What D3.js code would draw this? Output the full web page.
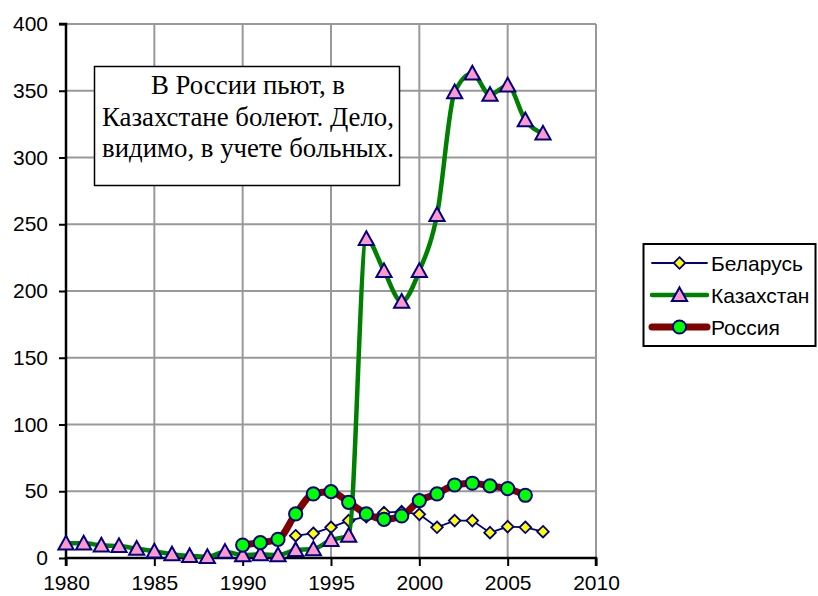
<!DOCTYPE html>
<html><head><meta charset="utf-8">
<script src="https://cdn.jsdelivr.net/npm/d3@7/dist/d3.min.js"></script>
<style>body{margin:0;background:#fff}svg{display:block}</style>
</head><body>
<svg id="c" width="818" height="596"></svg>
<script>
const belarusYears = [1993,1994,1995,1996,1997,1998,1999,2000,2001,2002,2003,2004,2005,2006,2007];
const belarus = [16.7,18.5,23,28,31,34,34.7,32.7,23,28,28,19,23.5,23,19.7];
const kazYears = [1980,1981,1982,1983,1984,1985,1986,1987,1988,1989,1990,1991,1992,1993,1994,1995,1996,1997,1998,1999,2000,2001,2002,2003,2004,2005,2006,2007];
const kazakhstan = [11,11,9.5,9,7,5,2.8,1.5,0.8,4.7,2.2,2.8,2.2,6,6.7,13.5,16.7,239,215,192,215,257,349,363,347,354,328,318];
const rusYears = [1990,1991,1992,1993,1994,1995,1996,1997,1998,1999,2000,2001,2002,2003,2004,2005,2006];
const russia = [9.7,11.5,14,33,48,49.7,41.7,33,29,31.5,43,48,54.7,56,54,52,47];
const xTicks = [1980,1985,1990,1995,2000,2005,2010];
const yTicks = [0,50,100,150,200,250,300,350,400];
const seriesNames = ["Беларусь","Казахстан","Россия"];
const noteLines = ["В России пьют, в","Казахстане болеют. Дело,","видимо, в учете больных."];

const svg = d3.select("#c");
const L=66,R=596,T=24,B=558;
const x = d3.scaleLinear().domain([1980,2010]).range([L,R]);
const y = d3.scaleLinear().domain([0,400]).range([B,T]);
const sans = "Liberation Sans, Arial, sans-serif";

// grid
const g = svg.append("g");
g.selectAll(".hg").data(yTicks.filter(d=>d>0)).enter().append("line")
  .attr("x1",L).attr("x2",R).attr("y1",d=>y(d)).attr("y2",d=>y(d))
  .attr("stroke","#999").attr("stroke-width",2);
g.selectAll(".vg").data(xTicks.filter(d=>d>1980)).enter().append("line")
  .attr("y1",T).attr("y2",B).attr("x1",d=>x(d)).attr("x2",d=>x(d))
  .attr("stroke","#999").attr("stroke-width",2);

// axes
const yAxis = d3.axisLeft(y).tickValues(yTicks).tickSize(7).tickPadding(11).tickFormat(d3.format("d"));
const xAxis = d3.axisBottom(x).tickValues(xTicks).tickSize(8).tickPadding(9).tickFormat(d3.format("d"));
const ya = svg.append("g").attr("transform",`translate(${L},0)`).call(yAxis);
const xa = svg.append("g").attr("transform",`translate(0,${B})`).call(xAxis);
[ya,xa].forEach(a=>{
  a.select(".domain").attr("stroke","#000").attr("stroke-width",2.5);
  a.selectAll(".tick line").attr("stroke","#000").attr("stroke-width",2);
  a.selectAll(".tick text").attr("font-family",sans).attr("font-size",21).attr("fill","#000");
});
ya.select(".domain").attr("d",`M-7,${T}H0V${B}`);
xa.select(".domain").attr("d",`M${L},8V0H${R}V8`);

// note box
const nb = svg.append("g");
nb.append("rect").attr("x",94.5).attr("y",66.5).attr("width",305).attr("height",119)
  .attr("fill","#fff").attr("stroke","#000").attr("stroke-width",1.5);
nb.selectAll("text").data(noteLines).enter().append("text")
  .attr("x",248).attr("y",(d,i)=>94+i*31.5).attr("text-anchor","middle")
  .attr("font-family","Liberation Serif, Times New Roman, serif").attr("font-size",26.8).attr("fill","#000")
  .text(d=>d);

const smooth = d3.curveMonotoneX;
function pts(years, vals){ return years.map((yr,i)=>[yr,vals[i]]); }
const bel = pts(belarusYears, belarus), kaz = pts(kazYears, kazakhstan), rus = pts(rusYears, russia);

const lineS = d3.line().x(d=>x(d[0])).y(d=>y(d[1])).curve(smooth);
const lineL = d3.line().x(d=>x(d[0])).y(d=>y(d[1]));

function tri(cx,cy){ const s=7.6; return `M${cx},${cy-s}L${cx+s},${cy+s*0.8}L${cx-s},${cy+s*0.8}Z`; }
function dia(cx,cy){ const s=5.8; return `M${cx},${cy-s}L${cx+s},${cy}L${cx},${cy+s}L${cx-s},${cy}Z`; }

// Belarus
svg.append("path").attr("d",lineL(bel)).attr("fill","none").attr("stroke","#000080").attr("stroke-width",1.8);
svg.selectAll(".bm").data(bel).enter().append("path").attr("d",d=>dia(x(d[0]),y(d[1])))
  .attr("fill","#ffff00").attr("stroke","#000080").attr("stroke-width",1.8);
// Kazakhstan
svg.append("path").attr("d",lineS(kaz)).attr("fill","none").attr("stroke","#008000").attr("stroke-width",4.5);
svg.selectAll(".km").data(kaz).enter().append("path").attr("d",d=>tri(x(d[0]),y(d[1])))
  .attr("fill","#ff99cc").attr("stroke","#000080").attr("stroke-width",2);
// Russia
svg.append("path").attr("d",lineS(rus)).attr("fill","none").attr("stroke","#800000").attr("stroke-width",7);
svg.selectAll(".rm").data(rus).enter().append("circle").attr("cx",d=>x(d[0])).attr("cy",d=>y(d[1])).attr("r",6.6)
  .attr("fill","#00ff00").attr("stroke","#000080").attr("stroke-width",2);

// legend
const lg = svg.append("g");
lg.append("rect").attr("x",643.5).attr("y",244).attr("width",172).attr("height",102)
  .attr("fill","#fff").attr("stroke","#000").attr("stroke-width",2);
const rows=[263,295,327];
const lstyles=[{c:"#000080",w:1.8},{c:"#008000",w:4.5},{c:"#800000",w:7}];
rows.forEach((ry,i)=>{
  lg.append("line").attr("x1",652).attr("x2",707).attr("y1",ry).attr("y2",ry)
    .attr("stroke",lstyles[i].c).attr("stroke-width",lstyles[i].w).attr("stroke-linecap","round");
  if(i===0) lg.append("path").attr("d",dia(679.5,ry)).attr("fill","#ffff00").attr("stroke","#000080").attr("stroke-width",1.8);
  if(i===1) lg.append("path").attr("d",tri(679.5,ry)).attr("fill","#ff99cc").attr("stroke","#000080").attr("stroke-width",2);
  if(i===2) lg.append("circle").attr("cx",679.5).attr("cy",ry).attr("r",6.6).attr("fill","#00ff00").attr("stroke","#000080").attr("stroke-width",2);
  lg.append("text").attr("x",711).attr("y",ry+7.5).attr("font-family",sans)
    .attr("font-size",21).attr("fill","#000").text(seriesNames[i]);
});
</script>
</body></html>
